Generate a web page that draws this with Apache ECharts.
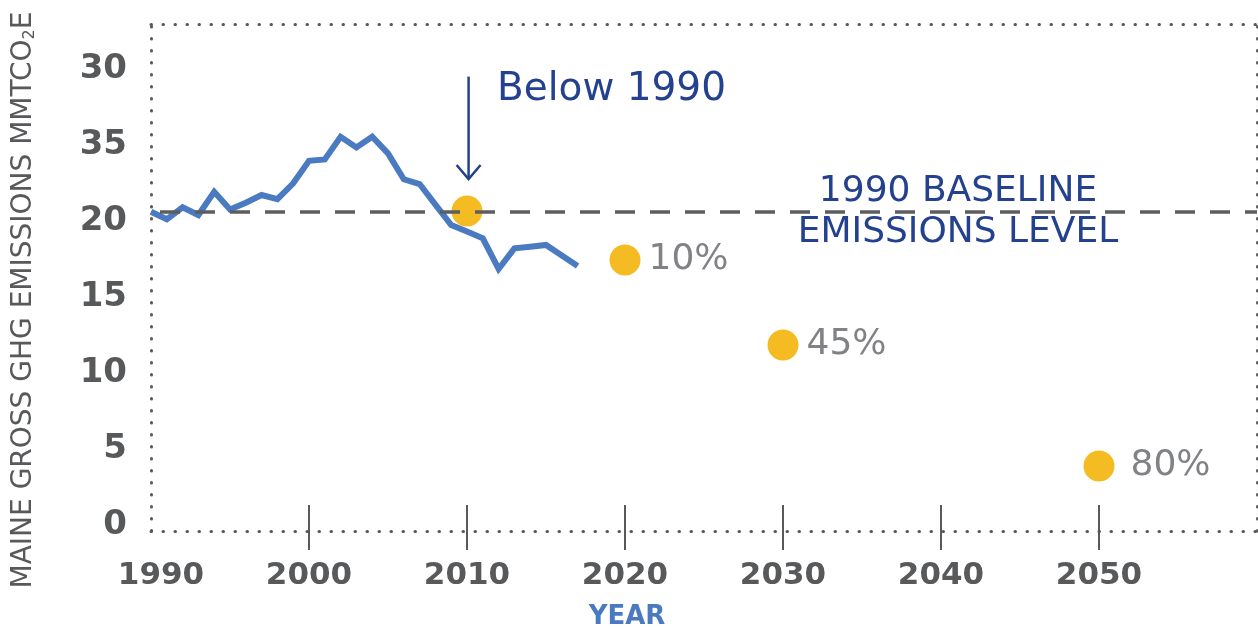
<!DOCTYPE html>
<html>
<head>
<meta charset="utf-8">
<title>Maine gross GHG emissions</title>
<script src="https://cdn.jsdelivr.net/npm/echarts@6.0.0/dist/echarts.min.js"></script>
<style>
    html, body { margin: 0; padding: 0; background: #fff; }
    #chart { width: 1258px; height: 630px; }
</style>
</head>
<body>
<div id="chart"></div>
<script>
// gross emissions history (MMTCO2e)
const years = [1990, 1991, 1992, 1993, 1994, 1995, 1996, 1997, 1998, 1999,
    2000, 2001, 2002, 2003, 2004, 2005, 2006, 2007, 2008, 2009,
    2010, 2011, 2012, 2013, 2014, 2015, 2016, 2017]
const emissions = [21.01, 20.51, 21.30, 20.79, 22.32, 21.16, 21.60, 22.11, 21.84, 22.88,
    24.36, 24.45, 25.94, 25.24, 25.94, 24.85, 23.14, 22.83, 21.48, 20.13,
    19.70, 19.26, 17.24, 18.60, 18.70, 18.82, 18.13, 17.43]
const baseline = 21.02

// reduction targets
const targetYears = [2010, 2020, 2030, 2050]
const targetValues = [21.05, 17.83, 12.24, 4.28]
const targetLabels = ['', '10%', '45%', '80%']

// axis labels
const xTickValues = [1990, 2000, 2010, 2020, 2030, 2040, 2050]
const xMarkValues = [2000, 2010, 2020, 2030, 2040, 2050]
const yTickValues = [0, 5, 10, 15, 20, 25, 30]
const yTickLabels = ['0', '5', '10', '15', '20', '35', '30']

const FONT = 'DejaVu Sans'
const GRAY = '#58595b'
const NAVY = '#24418f'
const BLUE = '#4a7abf'
const GOLD = '#f4bc22'

// dotted frame
const dotted = { color: GRAY, width: 3, type: [0.5, 11.5], cap: 'round' }
const pctGap = [0, 8, 8, 16]

const chart = echarts.init(document.getElementById('chart'))

const option = {
    animation: false,
    grid: { left: 151, right: 1, top: 24, bottom: 99, containLabel: false },
    xAxis: [
        {
            type: 'value', min: 1990, max: 2060, position: 'bottom',
            splitLine: { show: false },
            axisLine: { show: true, lineStyle: dotted },
            axisTick: { show: true, customValues: xMarkValues, length: 19, lineStyle: { color: GRAY, width: 2 } },
            axisLabel: {
                customValues: xTickValues,
                margin: 29,
                color: GRAY, fontFamily: FONT, fontWeight: 'bold', fontSize: 31,
                formatter: v => v === 1990 ? '{first|1990}' : String(v),
                rich: {
                    first: { color: GRAY, fontFamily: FONT, fontWeight: 'bold', fontSize: 31, padding: [0, 0, 0, 20] }
                }
            }
        },
        {
            // inner half of the decade ticks
            type: 'value', min: 1990, max: 2060, position: 'bottom',
            splitLine: { show: false },
            axisLine: { show: false },
            axisTick: { show: true, inside: true, customValues: xMarkValues, length: 26, lineStyle: { color: GRAY, width: 2 } },
            axisLabel: { show: false }
        },
        {
            type: 'value', min: 1990, max: 2060, position: 'top',
            splitLine: { show: false },
            axisLine: { show: true, lineStyle: dotted },
            axisTick: { show: false },
            axisLabel: { show: false }
        }
    ],
    yAxis: [
        {
            type: 'value', min: 0, max: 33.36, position: 'left',
            splitLine: { show: false },
            axisLine: { show: true, lineStyle: dotted },
            axisTick: { show: false },
            axisLabel: {
                customValues: yTickValues,
                margin: 24,
                verticalAlign: 'bottom',
                lineHeight: 12,
                color: GRAY, fontFamily: FONT, fontWeight: 'bold', fontSize: 34,
                formatter: v => {
                    const i = yTickValues.indexOf(v)
                    return i < 0 ? '' : yTickLabels[i]
                }
            }
        },
        {
            type: 'value', min: 0, max: 33.36, position: 'right',
            splitLine: { show: false },
            axisLine: { show: true, lineStyle: dotted },
            axisTick: { show: false },
            axisLabel: { show: false }
        }
    ],
    series: [
        {
            // 1990 baseline
            type: 'line', data: [], z: 1,
            markLine: {
                silent: true, symbol: 'none',
                label: { show: false },
                lineStyle: { color: '#5c5d5f', width: 3.5, type: [20, 15], dashOffset: 26 },
                data: [{ yAxis: baseline }]
            }
        },
        {
            type: 'line', z: 3,
            data: years.map((y, i) => [y, emissions[i]]),
            showSymbol: false,
            lineStyle: { color: BLUE, width: 6, join: 'miter' }
        },
        {
            type: 'scatter', z: 4,
            symbolSize: 31,
            itemStyle: { color: GOLD, opacity: 1 },
            label: {
                show: true, position: 'right',
                color: '#808285', fontFamily: FONT, fontSize: 36
            },
            data: targetYears.map((y, i) => ({
                value: [y, targetValues[i]],
                label: { show: targetLabels[i] !== '', formatter: targetLabels[i], distance: pctGap[i] }
            }))
        }
    ]
}

chart.setOption(option)

// annotations
const arrowStart = chart.convertToPixel({ xAxisIndex: 0, yAxisIndex: 0 }, [2010.1, 29.9])
const arrowTip = chart.convertToPixel({ xAxisIndex: 0, yAxisIndex: 0 }, [2010.1, 23.16])

chart.setOption({
    graphic: [
        {
            type: 'polyline', z: 10,
            shape: { points: [arrowStart, arrowTip] },
            style: { stroke: NAVY, lineWidth: 2.5, fill: null }
        },
        {
            type: 'polyline', z: 10,
            shape: { points: [[arrowTip[0] - 12, arrowTip[1] - 14], arrowTip, [arrowTip[0] + 12, arrowTip[1] - 14]] },
            style: { stroke: NAVY, lineWidth: 2.5, fill: null }
        },
        {
            type: 'text', x: 497, y: 90, z: 10,
            style: { text: 'Below 1990', fill: NAVY, font: '39px "DejaVu Sans"', verticalAlign: 'middle' }
        },
        {
            type: 'text', x: 958, y: 212, z: 10,
            style: {
                text: '1990 BASELINE\nEMISSIONS LEVEL', fill: NAVY, font: '36px "DejaVu Sans"',
                align: 'center', verticalAlign: 'middle', lineHeight: 41
            }
        },
        {
            type: 'text', x: 24, y: 300, rotation: Math.PI / 2, z: 10,
            style: {
                text: 'MAINE GROSS GHG EMISSIONS MMTCO{sub|2}E',
                fill: GRAY, font: '28px "DejaVu Sans"',
                align: 'center', verticalAlign: 'middle',
                rich: {
                    sub: { fill: GRAY, fontFamily: FONT, fontSize: 16, verticalAlign: 'bottom', padding: [12, 0, 0, 0] }
                }
            }
        },
        {
            type: 'text', x: 627, y: 617, z: 10,
            style: { text: 'YEAR', fill: BLUE, font: 'bold 26px "DejaVu Sans"', align: 'center', verticalAlign: 'middle' }
        }
    ]
})
</script>
</body>
</html>
